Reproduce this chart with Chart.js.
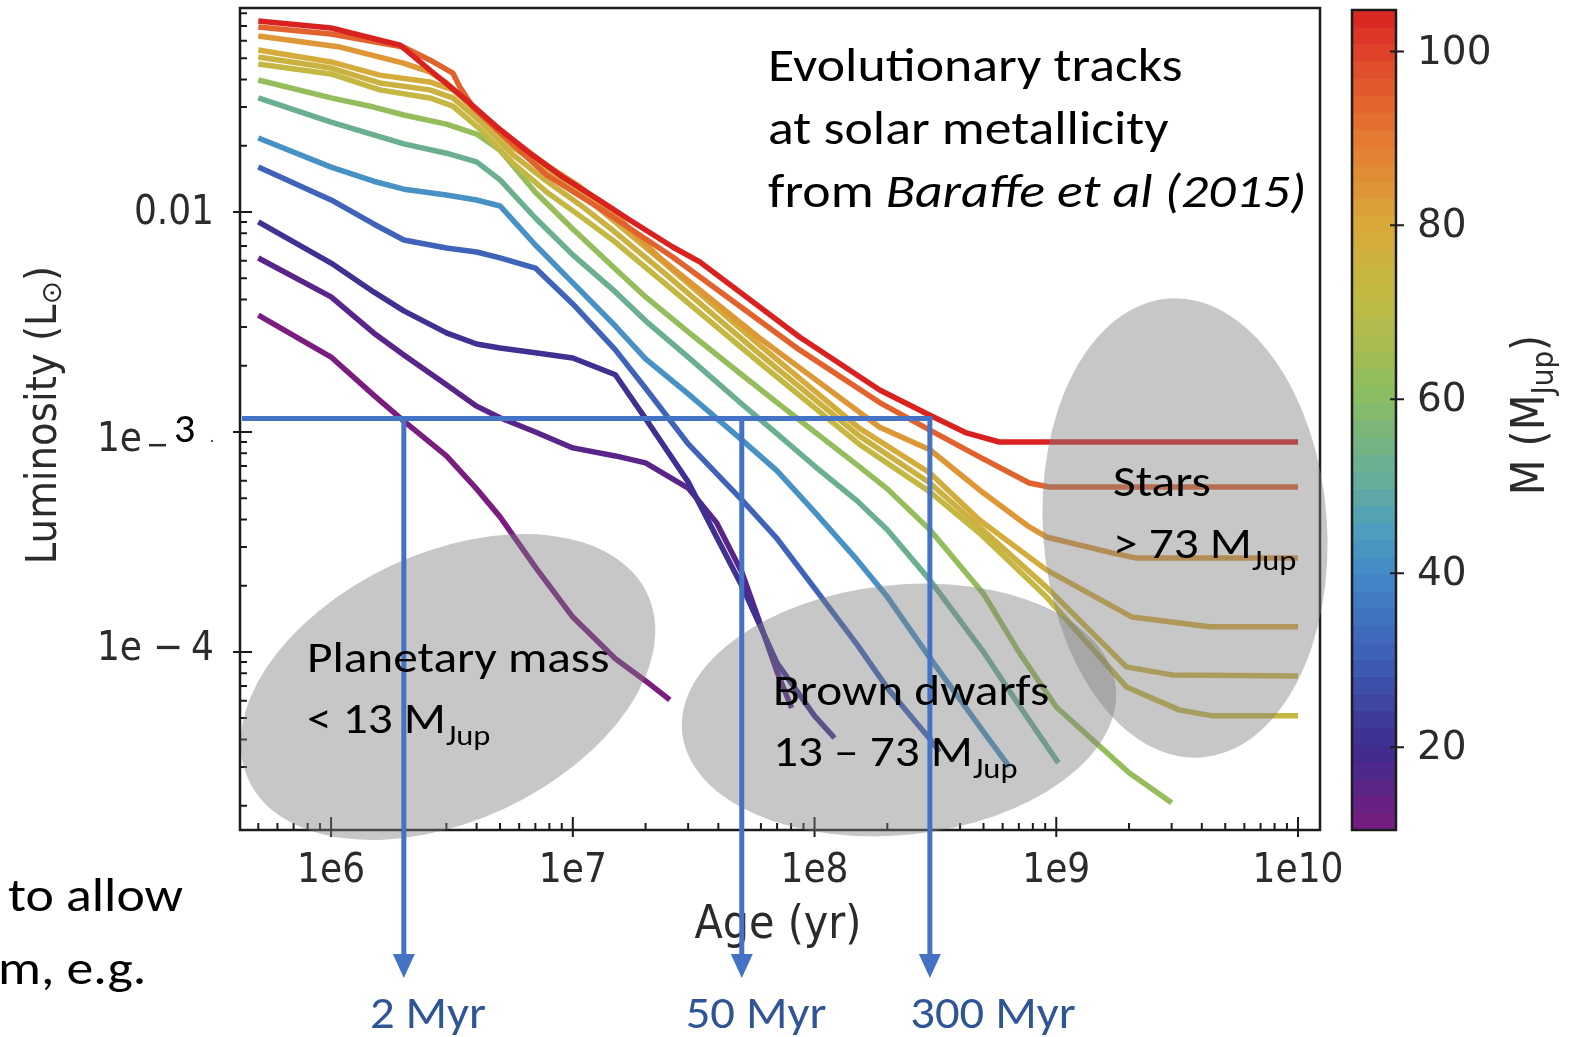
<!DOCTYPE html>
<html>
<head>
<meta charset="utf-8">
<title>Evolutionary tracks</title>
<script src="https://cdn.jsdelivr.net/npm/chart.js@4.4.1/dist/chart.umd.min.js"></script>
<style>
  html, body { margin: 0; padding: 0; background: #fff; }
  #wrap { width: 1571px; height: 1037px; }
</style>
</head>
<body>
<div id="wrap"><canvas id="tracks" width="1571" height="1037"></canvas></div>
<script>
// Baraffe et al. (2015) tracks at solar metallicity, masses in Msun
const masses = [0.01, 0.015, 0.02, 0.03, 0.04, 0.05, 0.06, 0.07, 0.072, 0.075, 0.08, 0.09, 0.1];
const MJUP_PER_MSUN = 1047.6;

// age (yr) / luminosity (Lsun) along each track
const age_010 = [5e5, 1e6, 1.5e6, 2e6, 3e6, 4e6, 5e6, 7e6, 1e7, 1.5e7, 2e7, 2.52e7];
const lum_010 = [3.40e-3, 2.19e-3, 1.47e-3, 1.12e-3, 7.78e-4, 5.51e-4, 4.11e-4, 2.43e-4, 1.44e-4, 9.3e-5, 7.38e-5, 6.05e-5];

const age_015 = [5e5, 1e6, 1.5e6, 2e6, 3e6, 4e6, 5e6, 7e6, 1e7, 1.5e7, 2e7, 3e7, 3.94e7, 5e7, 5.75e7, 7e7, 8.04e7];
const lum_015 = [6.18e-3, 4.11e-3, 2.82e-3, 2.24e-3, 1.64e-3, 1.31e-3, 1.16e-3, 1.00e-3, 8.46e-4, 7.78e-4, 7.23e-4, 5.56e-4, 3.86e-4, 2.31e-4, 1.50e-4, 8.1e-5, 5.56e-5];

const age_020 = [5e5, 1e6, 1.5e6, 2e6, 3e6, 4e6, 5e6, 7e6, 1e7, 1.5e7, 2e7, 3e7, 5e7, 7e7, 1e8, 1.21e8];
const lum_020 = [9.01e-3, 5.86e-3, 4.33e-3, 3.55e-3, 2.82e-3, 2.51e-3, 2.41e-3, 2.29e-3, 2.17e-3, 1.82e-3, 1.15e-3, 5.93e-4, 2.0e-4, 8.9e-5, 5.12e-5, 4.06e-5];

const age_030 = [5e5, 1e6, 1.5e6, 2e6, 3e6, 4e6, 5e6, 7e6, 1e7, 1.5e7, 2e7, 3e7, 5e7, 7e7, 1e8, 1.5e8, 2e8, 3e8, 3.29e8];
const lum_030 = [1.60e-2, 1.134e-2, 8.82e-3, 7.46e-3, 6.86e-3, 6.58e-3, 6.18e-3, 5.56e-3, 3.82e-3, 2.36e-3, 1.58e-3, 8.82e-4, 4.91e-4, 3.27e-4, 1.95e-4, 1.08e-4, 6.86e-5, 4.02e-5, 3.51e-5];

const age_040 = [5e5, 1e6, 1.5e6, 2e6, 3e6, 4e6, 5e6, 7e6, 1e7, 1.5e7, 2e7, 3e7, 5e7, 7e7, 1e8, 1.5e8, 2e8, 3e8, 5e8, 6.4e8];
const lum_040 = [2.17e-2, 1.60e-2, 1.38e-2, 1.27e-2, 1.195e-2, 1.134e-2, 1.065e-2, 7.08e-3, 4.76e-3, 3.03e-3, 2.15e-3, 1.49e-3, 9.2e-4, 6.65e-4, 4.33e-4, 2.62e-4, 1.78e-4, 9.4e-5, 4.33e-5, 3.0e-5];

const age_050 = [5e5, 1e6, 1.5e6, 2e6, 3e6, 4e6, 5e6, 7e6, 1e7, 1.5e7, 2e7, 3e7, 5e7, 7e7, 1e8, 1.5e8, 2e8, 3e8, 5e8, 7e8, 1.02e9];
const lum_050 = [3.30e-2, 2.56e-2, 2.24e-2, 2.04e-2, 1.85e-2, 1.69e-2, 1.40e-2, 9.39e-3, 6.38e-3, 4.33e-3, 3.20e-3, 2.19e-3, 1.34e-3, 9.8e-4, 7.0e-4, 4.86e-4, 3.59e-4, 2.12e-4, 1.0e-4, 5.74e-5, 3.13e-5];

const age_060 = [5e5, 1e6, 1.5e6, 2e6, 3e6, 4e6, 5e6, 7e6, 1e7, 1.5e7, 2e7, 3e7, 5e7, 7e7, 1e8, 1.5e8, 2e8, 3e8, 5e8, 7e8, 1e9, 2e9, 3e9];
const lum_060 = [3.98e-2, 3.30e-2, 3.00e-2, 2.76e-2, 2.51e-2, 2.26e-2, 1.91e-2, 1.23e-2, 8.37e-3, 5.51e-3, 4.11e-3, 2.85e-3, 1.82e-3, 1.36e-3, 1.0e-3, 7.08e-4, 5.51e-4, 3.59e-4, 1.84e-4, 1.0e-4, 5.62e-5, 2.82e-5, 2.06e-5];

const age_070 = [5e5, 1e6, 1.59e6, 2.56e6, 3.19e6, 4.13e6, 5.65e6, 7.81e6, 1.07e7, 1.46e7, 2.36e7, 5.93e7, 1.53e8, 3.0e8, 4.81e8, 9.10e8, 1.95e9, 3.22e9, 4.41e9, 1e10];
const lum_070 = [4.71e-2, 4.24e-2, 3.59e-2, 3.30e-2, 3.03e-2, 2.38e-2, 1.67e-2, 1.23e-2, 9.6e-3, 7.46e-3, 4.81e-3, 2.06e-3, 8.8e-4, 5.34e-4, 3.47e-4, 1.78e-4, 6.93e-5, 5.45e-5, 5.12e-5, 5.12e-5];

const age_072 = [5e5, 1e6, 1.59e6, 2.56e6, 3.19e6, 4.13e6, 5.65e6, 7.81e6, 1.07e7, 1.46e7, 2.36e7, 5.93e7, 1.53e8, 3.0e8, 4.81e8, 9.10e8, 1.95e9, 3.01e9, 1e10];
const lum_072 = [5.07e-2, 4.51e-2, 3.86e-2, 3.59e-2, 3.30e-2, 2.59e-2, 1.82e-2, 1.38e-2, 1.08e-2, 8.28e-3, 5.34e-3, 2.26e-3, 9.6e-4, 5.86e-4, 3.70e-4, 1.97e-4, 8.55e-5, 7.86e-5, 7.78e-5];

const age_075 = [5e5, 1e6, 1.59e6, 2.56e6, 3.19e6, 4.13e6, 5.65e6, 7.81e6, 1.07e7, 1.46e7, 2.36e7, 5.93e7, 1.53e8, 3.0e8, 4.81e8, 9.10e8, 2.06e9, 4.29e9, 1e10];
const lum_075 = [5.45e-2, 4.81e-2, 4.19e-2, 3.90e-2, 3.59e-2, 2.82e-2, 1.97e-2, 1.55e-2, 1.22e-2, 9.2e-3, 5.93e-3, 2.48e-3, 1.04e-3, 6.51e-4, 3.98e-4, 2.36e-4, 1.44e-4, 1.30e-4, 1.30e-4];

const age_080 = [5e5, 1.09e6, 1.99e6, 2.56e6, 3.01e6, 3.86e6, 5.65e6, 7.81e6, 1.07e7, 1.46e7, 2.29e7, 5.93e7, 1.86e8, 3.0e8, 4.81e8, 7.73e8, 9.10e8, 1.70e9, 2.14e9, 1e10];
const lum_080 = [6.31e-2, 5.62e-2, 4.75e-2, 4.33e-2, 3.86e-2, 2.97e-2, 2.12e-2, 1.63e-2, 1.30e-2, 1.00e-2, 6.18e-3, 2.67e-3, 1.05e-3, 8.3e-4, 5.45e-4, 3.70e-4, 3.33e-4, 2.82e-4, 2.67e-4, 2.67e-4];

const age_090 = [5e5, 1e6, 1.99e6, 2.56e6, 3.19e6, 3.41e6, 3.86e6, 4.86e6, 7.81e6, 1.29e7, 2.59e7, 8.67e7, 1.86e8, 3.0e8, 4.81e8, 7.73e8, 9.35e8, 1e10];
const lum_090 = [6.93e-2, 6.44e-2, 5.62e-2, 4.91e-2, 4.28e-2, 3.70e-2, 3.00e-2, 2.36e-2, 1.47e-2, 1.04e-2, 6.24e-3, 2.36e-3, 1.36e-3, 1.02e-3, 7.7e-4, 5.86e-4, 5.62e-4, 5.62e-4];

const age_100 = [5e5, 1e6, 1.93e6, 2.56e6, 3.51e6, 4.86e6, 6.64e6, 9.10e6, 1.29e7, 1.72e7, 2.59e7, 3.35e7, 8.67e7, 1.86e8, 3.0e8, 4.25e8, 5.81e8, 1e10];
const lum_100 = [7.38e-2, 6.86e-2, 5.74e-2, 4.42e-2, 3.33e-2, 2.43e-2, 1.85e-2, 1.44e-2, 1.13e-2, 9.2e-3, 6.93e-3, 5.93e-3, 2.70e-3, 1.55e-3, 1.19e-3, 9.9e-4, 9.0e-4, 9.0e-4];

const track_ages = [age_010, age_015, age_020, age_030, age_040, age_050, age_060, age_070, age_072, age_075, age_080, age_090, age_100];
const track_lums = [lum_010, lum_015, lum_020, lum_030, lum_040, lum_050, lum_060, lum_070, lum_072, lum_075, lum_080, lum_090, lum_100];

// axis ranges and tick labels
const AGE_MIN = 4.2e5, AGE_MAX = 1.233e10;
const LUM_MIN = 1.55e-5, LUM_MAX = 0.0846;
const age_ticks = [1e6, 1e7, 1e8, 1e9, 1e10];
const age_tick_labels = ['1e6', '1e7', '1e8', '1e9', '1e10'];
const mass_ticks = [20, 40, 60, 80, 100];

// reference ages picked out at one luminosity
const guide_lum = 1.15e-3;
const guide_ages = [2e6, 5e7, 3e8];
const guide_labels = ['2 Myr', '50 Myr', '300 Myr'];

const mjup = masses.map(m => m * MJUP_PER_MSUN);
const M_LO = Math.min(...mjup), M_HI = Math.max(...mjup);

// rainbow colour map, fraction -> rgb
const cmap = [
  [0.00, [122, 28, 128]],
  [0.10, [62, 44, 142]],
  [0.21, [62, 94, 182]],
  [0.31, [66, 136, 200]],
  [0.37, [78, 159, 190]],
  [0.42, [98, 171, 158]],
  [0.53, [138, 189, 98]],
  [0.64, [189, 188, 69]],
  [0.74, [217, 168, 58]],
  [0.85, [229, 118, 47]],
  [0.95, [222, 66, 41]],
  [1.00, [217, 33, 32]]
];
function massColor(m) {
  let f = (m - M_LO) / (M_HI - M_LO);
  f = Math.max(0, Math.min(1, f));
  for (let i = 1; i < cmap.length; i++) {
    if (f <= cmap[i][0]) {
      const [f0, c0] = cmap[i - 1], [f1, c1] = cmap[i];
      const t = (f - f0) / (f1 - f0);
      const c = c0.map((v, k) => Math.round(v + (c1[k] - v) * t));
      return 'rgb(' + c.join(',') + ')';
    }
  }
  return 'rgb(' + cmap[cmap.length - 1][1].join(',') + ')';
}

const SANS = "'DejaVu Sans', sans-serif";
const SANS_C = "'DejaVu Sans Condensed', 'DejaVu Sans', sans-serif";
const NOTE = "Carlito, Lato, sans-serif";
const NOTE_SX = 1.12; // Lato runs narrower than the slide font

function drawRuns(ctx, x, y, parts) {
  let cx = x;
  parts.forEach(p => {
    ctx.font = p.font;
    ctx.fillText(p.t, cx, y + (p.dy || 0));
    cx += ctx.measureText(p.t).width;
  });
  return cx - x;
}
function runsWidth(ctx, parts) {
  let w = 0;
  parts.forEach(p => { ctx.font = p.font; w += ctx.measureText(p.t).width; });
  return w;
}
// left-aligned runs, stretched sideways
function noteRuns(ctx, x, y, parts, sx) {
  ctx.save();
  ctx.translate(x, y);
  ctx.scale(sx || NOTE_SX, 1);
  drawRuns(ctx, 0, 0, parts);
  ctx.restore();
}

function logTicks(min, max) {
  const out = [];
  for (let e = Math.floor(Math.log10(min)); e <= Math.ceil(Math.log10(max)); e++) {
    for (let m = 1; m <= 9; m++) {
      const v = m * Math.pow(10, e);
      if (v >= min && v <= max) out.push({ v: v, major: m === 1 });
    }
  }
  return out;
}

function drawAxes(ctx, xs, ys, a) {
  ctx.save();
  ctx.strokeStyle = '#1c1c1c';
  ctx.lineWidth = 2.5;
  ctx.strokeRect(a.left, a.top, a.right - a.left, a.bottom - a.top);
  ctx.lineWidth = 2;
  ctx.beginPath();
  logTicks(AGE_MIN, AGE_MAX).forEach(t => {
    const px = xs.getPixelForValue(t.v);
    if (t.major) { ctx.moveTo(px, a.bottom + 7); ctx.lineTo(px, a.bottom - 13); }
    else { ctx.moveTo(px, a.bottom); ctx.lineTo(px, a.bottom - 7); }
  });
  logTicks(LUM_MIN, LUM_MAX).forEach(t => {
    const py = ys.getPixelForValue(t.v);
    if (t.major) { ctx.moveTo(a.left - 7, py); ctx.lineTo(a.left + 12, py); }
    else { ctx.moveTo(a.left, py); ctx.lineTo(a.left + 7, py); }
  });
  ctx.stroke();

  // tick labels
  const tickFont = '40px ' + SANS_C;
  ctx.fillStyle = '#2b2b2b';
  ctx.textBaseline = 'middle';
  ctx.textAlign = 'center';
  ctx.font = tickFont;
  age_ticks.forEach((v, i) => ctx.fillText(age_tick_labels[i], xs.getPixelForValue(v), a.bottom + 42));

  ctx.textAlign = 'right';
  const p2 = ys.getPixelForValue(1e-2), p3 = ys.getPixelForValue(1e-3), p4 = ys.getPixelForValue(1e-4);
  ctx.fillText('0.01', 214, p2 + 2);
  ctx.fillText('1e', 142, p4 - 2);
  ctx.fillText('4', 214, p4 - 2);
  ctx.textAlign = 'center';
  ctx.fillText('\u2212', 168, p4 - 2);
  ctx.textAlign = 'right';
  ctx.fillText('1e', 142, p3 + 9);
  ctx.fillRect(149, p3 + 12, 17, 2.5);
  ctx.textAlign = 'left';
  ctx.fillStyle = '#000';
  ctx.font = '42px ' + NOTE;
  ctx.fillText('3', 174, p3);
  ctx.fillStyle = '#555';
  ctx.fillRect(211, p3 + 8, 2, 2);

  // axis titles
  ctx.fillStyle = '#2b2b2b';
  ctx.textAlign = 'center';
  ctx.font = '46px ' + SANS_C;
  ctx.fillText('Age (yr)', 778, 926);

  ctx.save();
  ctx.translate(45, 415);
  ctx.rotate(-Math.PI / 2);
  ctx.textAlign = 'left';
  const lumParts = [
    { t: 'Luminosity (L', font: '43px ' + SANS_C },
    { t: '\u2299', font: '28px ' + SANS, dy: 9 },
    { t: ')', font: '43px ' + SANS_C }
  ];
  drawRuns(ctx, -runsWidth(ctx, lumParts) / 2, 0, lumParts);
  ctx.restore();
  ctx.restore();
}

// shaded regions: planetary mass, brown dwarfs, stars
const blobs = [
  { cx: 448, cy: 687, rx: 220, ry: 134, rot: -25 },
  { cx: 899, cy: 710, rx: 218, ry: 125, rot: -6 },
  { cx: 1185, cy: 528, rx: 142, ry: 230, rot: -4 }
];
function drawBlobs(ctx) {
  ctx.save();
  ctx.fillStyle = 'rgba(128,128,128,0.44)';
  blobs.forEach(b => {
    ctx.beginPath();
    ctx.ellipse(b.cx, b.cy, b.rx, b.ry, b.rot * Math.PI / 180, 0, Math.PI * 2);
    ctx.fill();
  });
  ctx.restore();
}

function drawGuides(ctx, xs, ys, a) {
  const gy = ys.getPixelForValue(guide_lum);
  const xEnd = xs.getPixelForValue(Math.max(...guide_ages));
  ctx.save();
  ctx.strokeStyle = '#4472C4';
  ctx.fillStyle = '#4472C4';
  ctx.lineWidth = 5;
  ctx.beginPath();
  ctx.moveTo(a.left + 2, gy);
  ctx.lineTo(xEnd + 2, gy);
  guide_ages.forEach(age => {
    const px = xs.getPixelForValue(age);
    ctx.moveTo(px, gy - 2);
    ctx.lineTo(px, 956);
  });
  ctx.stroke();
  guide_ages.forEach(age => {
    const px = xs.getPixelForValue(age);
    ctx.beginPath();
    ctx.moveTo(px - 11, 954);
    ctx.lineTo(px + 11, 954);
    ctx.lineTo(px, 978);
    ctx.closePath();
    ctx.fill();
  });
  ctx.fillStyle = '#2F5597';
  ctx.textBaseline = 'alphabetic';
  const labelX = [428, 756, 993];
  guide_labels.forEach((t, i) => {
    const parts = [{ t: t, font: '45px ' + NOTE }];
    const sx = 1.08;
    const w = runsWidth(ctx, parts) * sx;
    noteRuns(ctx, labelX[i] - w / 2, 1028, parts, sx);
  });
  ctx.restore();
}

function drawNotes(ctx) {
  ctx.save();
  ctx.fillStyle = '#000';
  ctx.textBaseline = 'alphabetic';
  ctx.textAlign = 'left';
  const big = '48px ' + NOTE;
  noteRuns(ctx, 768, 81, [{ t: 'Evolutionary tracks', font: big }]);
  noteRuns(ctx, 768, 144, [{ t: 'at solar metallicity', font: big }]);
  noteRuns(ctx, 768, 207, [{ t: 'from ', font: big }, { t: 'Baraffe et al (2015)', font: 'italic 48px ' + NOTE }]);

  const b = '44px ' + NOTE, s = '29px ' + NOTE;
  noteRuns(ctx, 307, 672, [{ t: 'Planetary mass', font: b }]);
  noteRuns(ctx, 307, 733, [{ t: '< 13 M', font: b }, { t: 'Jup', font: s, dy: 12 }]);
  noteRuns(ctx, 773, 705, [{ t: 'Brown dwarfs', font: b }]);
  noteRuns(ctx, 773, 766, [{ t: '13 \u2013 73 M', font: b }, { t: 'Jup', font: s, dy: 12 }]);
  noteRuns(ctx, 1113, 496, [{ t: 'Stars', font: b }]);
  noteRuns(ctx, 1113, 558, [{ t: '> 73 M', font: b }, { t: 'Jup', font: s, dy: 12 }]);

  // text running in from the left
  noteRuns(ctx, 8, 911, [{ t: 'to allow', font: big }]);
  noteRuns(ctx, -2, 984, [{ t: 'm, e.g.', font: big }]);
  ctx.restore();
}

const CB = { left: 1352, right: 1396, top: 10, bottom: 830, bands: 48 };
function cbY(m) { return CB.bottom - (m - M_LO) / (M_HI - M_LO) * (CB.bottom - CB.top); }
function drawColorbar(ctx) {
  ctx.save();
  const h = (CB.bottom - CB.top) / CB.bands;
  for (let i = 0; i < CB.bands; i++) {
    const m = M_LO + (i + 0.5) / CB.bands * (M_HI - M_LO);
    ctx.fillStyle = massColor(m);
    ctx.fillRect(CB.left, CB.bottom - (i + 1) * h, CB.right - CB.left, h + 0.6);
  }
  ctx.strokeStyle = '#1c1c1c';
  ctx.lineWidth = 2.5;
  ctx.strokeRect(CB.left, CB.top, CB.right - CB.left, CB.bottom - CB.top);
  ctx.lineWidth = 2;
  ctx.beginPath();
  mass_ticks.forEach(m => { const y = cbY(m); ctx.moveTo(CB.right - 6, y); ctx.lineTo(CB.right + 8, y); });
  ctx.stroke();
  ctx.fillStyle = '#2b2b2b';
  ctx.font = '39px ' + SANS;
  ctx.textBaseline = 'middle';
  ctx.textAlign = 'left';
  mass_ticks.forEach(m => ctx.fillText(String(m), 1417, cbY(m) + 2));

  ctx.translate(1532, 415);
  ctx.rotate(-Math.PI / 2);
  const parts = [
    { t: 'M (M', font: '46px ' + SANS_C },
    { t: 'Jup', font: '31px ' + SANS_C, dy: 13 },
    { t: ')', font: '46px ' + SANS_C }
  ];
  drawRuns(ctx, -runsWidth(ctx, parts) / 2, 0, parts);
  ctx.restore();
}

const decor = {
  id: 'decor',
  beforeDraw(chart) {
    const ctx = chart.ctx;
    ctx.save();
    ctx.fillStyle = '#fff';
    ctx.fillRect(0, 0, chart.width, chart.height);
    ctx.restore();
  },
  afterDatasetsDraw(chart) {
    const ctx = chart.ctx, xs = chart.scales.x, ys = chart.scales.y, a = chart.chartArea;
    drawAxes(ctx, xs, ys, a);
    drawBlobs(ctx);
    drawGuides(ctx, xs, ys, a);
    drawNotes(ctx);
    drawColorbar(ctx);
  }
};

const datasets = masses.map((m, i) => ({
  label: m + ' Msun',
  data: track_ages[i].map((age, j) => ({ x: age, y: track_lums[i][j] })),
  showLine: true,
  borderColor: massColor(mjup[i]),
  borderWidth: 5.5,
  borderJoinStyle: 'round',
  pointRadius: 0,
  tension: 0,
  order: masses.length - i
}));

new Chart(document.getElementById('tracks'), {
  type: 'scatter',
  data: { datasets: datasets },
  options: {
    responsive: false,
    animation: false,
    layout: { padding: { left: 0, top: 8, right: 251, bottom: 0 } },
    plugins: { legend: { display: false }, tooltip: { enabled: false } },
    scales: {
      x: {
        type: 'logarithmic', min: AGE_MIN, max: AGE_MAX,
        grid: { display: false }, border: { display: false }, ticks: { display: false },
        afterFit: s => { s.height = 207; }
      },
      y: {
        type: 'logarithmic', min: LUM_MIN, max: LUM_MAX,
        grid: { display: false }, border: { display: false }, ticks: { display: false },
        afterFit: s => { s.width = 240; }
      }
    }
  },
  plugins: [decor]
});
</script>
</body>
</html>
